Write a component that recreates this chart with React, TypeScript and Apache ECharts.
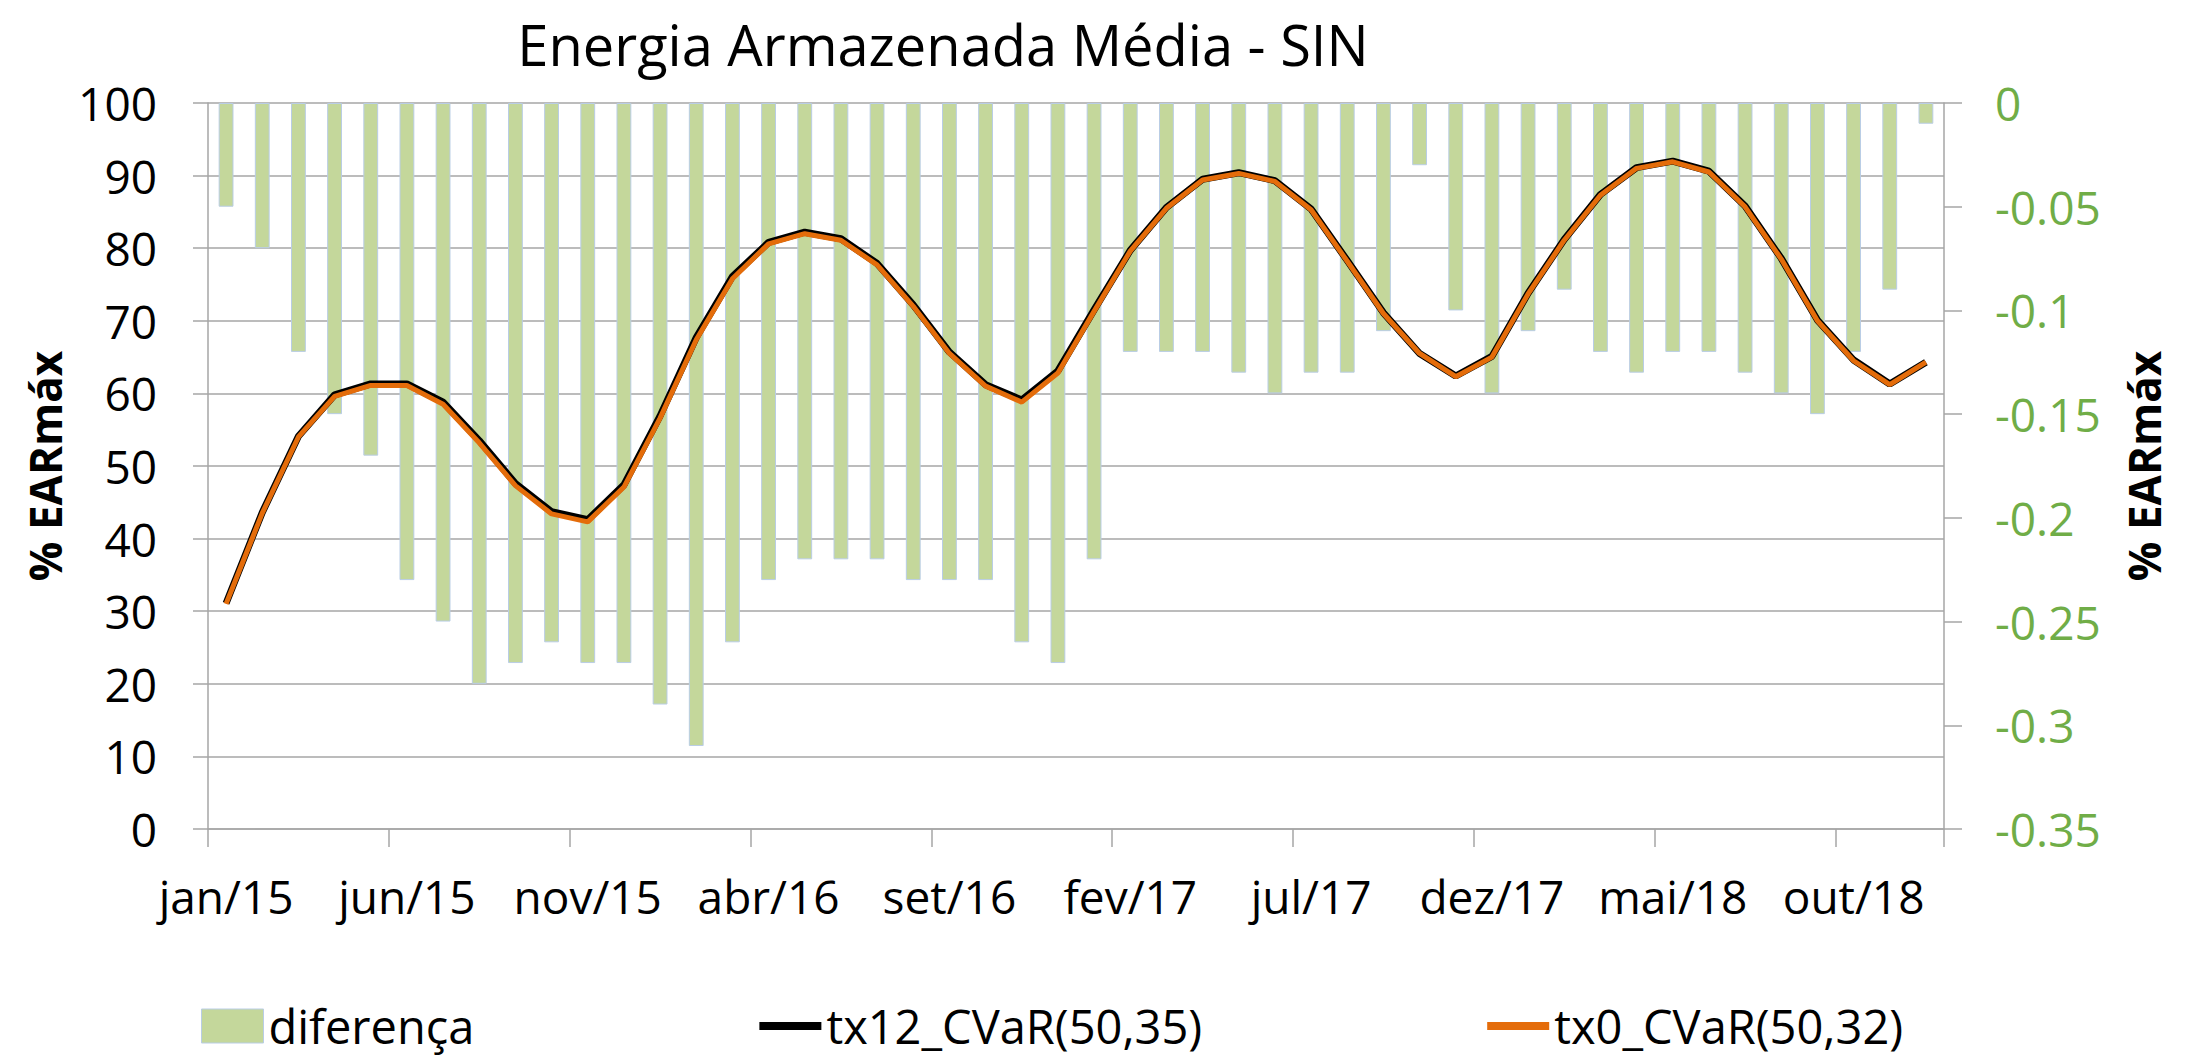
import React, { useEffect, useRef } from "react";
import * as echarts from "echarts";

const months = [
  "jan/15", "fev/15", "mar/15", "abr/15", "mai/15", "jun/15", "jul/15", "ago/15", "set/15", "out/15", "nov/15", "dez/15",
  "jan/16", "fev/16", "mar/16", "abr/16", "mai/16", "jun/16", "jul/16", "ago/16", "set/16", "out/16", "nov/16", "dez/16",
  "jan/17", "fev/17", "mar/17", "abr/17", "mai/17", "jun/17", "jul/17", "ago/17", "set/17", "out/17", "nov/17", "dez/17",
  "jan/18", "fev/18", "mar/18", "abr/18", "mai/18", "jun/18", "jul/18", "ago/18", "set/18", "out/18", "nov/18", "dez/18",
];

const diferenca = [
  -0.05, -0.07, -0.12, -0.15, -0.17, -0.23, -0.25, -0.28, -0.27, -0.26, -0.27, -0.27,
  -0.29, -0.31, -0.26, -0.23, -0.22, -0.22, -0.22, -0.23, -0.23, -0.23, -0.26, -0.27,
  -0.22, -0.12, -0.12, -0.12, -0.13, -0.14, -0.13, -0.13, -0.11, -0.03, -0.10, -0.14,
  -0.11, -0.09, -0.12, -0.13, -0.12, -0.12, -0.13, -0.14, -0.15, -0.12, -0.09, -0.01,
];

const tx12 = [
  31.1, 43.6, 54.1, 59.8, 61.3, 61.3, 58.8, 53.5, 47.6, 43.7, 42.6, 47.4,
  56.9, 67.7, 76.1, 80.8, 82.2, 81.3, 77.9, 72.2, 65.7, 61.2, 59.1, 63.1,
  71.5, 79.7, 85.6, 89.5, 90.4, 89.3, 85.4, 78.3, 71.1, 65.5, 62.4, 65.1,
  73.8, 81.2, 87.4, 91.1, 92.0, 90.6, 85.8, 78.6, 70.1, 64.6, 61.3, 64.3,
];

const tx0 = [
  31.0, 43.5, 54.0, 59.6, 61.1, 61.1, 58.5, 53.2, 47.3, 43.4, 42.3, 47.1,
  56.6, 67.4, 75.8, 80.6, 82.0, 81.1, 77.7, 72.0, 65.5, 61.0, 58.8, 62.8,
  71.3, 79.6, 85.5, 89.4, 90.3, 89.2, 85.3, 78.2, 71.0, 65.5, 62.3, 65.0,
  73.7, 81.1, 87.3, 91.0, 91.9, 90.5, 85.7, 78.5, 70.0, 64.5, 61.2, 64.3,
];

const FONT = "Open Sans";
const GRID_COLOR = "#a6a6a6";
const GREEN_TEXT = "#70ad47";
// legend line icon: a thick horizontal stroke inside a 62x34 box
const LINE_ICON =
  "path://M0,0L0.01,0L0.01,0.01Z M0,13L62,13L62,21L0,21Z M62,34L61.99,34L61.99,33.99Z";

export default function App() {
  const ref = useRef<HTMLDivElement>(null);

  useEffect(() => {
    if (!ref.current) return;
    const chart = echarts.init(ref.current, null, { renderer: "svg" });
    chart.setOption({
      animation: false,
      backgroundColor: "#ffffff",
      textStyle: { fontFamily: FONT },
      title: {
        text: "Energia Armazenada Média - SIN",
        left: 938,
        top: 4,
        textAlign: "center",
        textStyle: { fontFamily: FONT, fontSize: 56, fontWeight: "normal", color: "#000", lineHeight: 70 },
      },
      grid: { left: 208, right: 245, top: 103, bottom: 230, containLabel: false },
      legend: {
        left: 196,
        top: 997,
        itemGap: 285,
        itemWidth: 62,
        itemHeight: 34,
        textStyle: { fontFamily: FONT, fontSize: 47, color: "#000", lineHeight: 48 },
        data: [
          { name: "diferença", icon: "rect", itemStyle: { color: "#c4d79b", borderColor: "#b9cde5", borderWidth: 1 } },
          { name: "tx12_CVaR(50,35)", icon: LINE_ICON, itemStyle: { color: "#000", borderWidth: 0 } },
          { name: "tx0_CVaR(50,32)", icon: LINE_ICON, itemStyle: { color: "#e46c0a", borderWidth: 0 } },
        ],
      },
      xAxis: {
        type: "category",
        data: months,
        boundaryGap: true,
        axisLine: { show: true, lineStyle: { color: GRID_COLOR, width: 1.5 } },
        axisTick: { show: true, interval: 4, length: 18, alignWithLabel: false, lineStyle: { color: GRID_COLOR, width: 1.5 } },
        axisLabel: { interval: 4, margin: 44, fontFamily: FONT, fontSize: 46, color: "#000" },
        splitLine: { show: false },
      },
      yAxis: [
        {
          type: "value",
          min: 0,
          max: 100,
          interval: 10,
          position: "left",
          name: "% EARmáx",
          nameLocation: "middle",
          nameGap: 122,
          nameRotate: 90,
          nameTextStyle: { fontFamily: FONT, fontSize: 44, fontWeight: "bold", color: "#000" },
          axisLine: { show: true, lineStyle: { color: GRID_COLOR, width: 1.5 } },
          axisTick: { show: true, length: 15, lineStyle: { color: GRID_COLOR, width: 1.5 } },
          axisLabel: { margin: 51, fontFamily: FONT, fontSize: 46, color: "#000" },
          splitLine: { show: true, lineStyle: { color: GRID_COLOR, width: 1.5 } },
        },
        {
          type: "value",
          min: -0.35,
          max: 0,
          interval: 0.05,
          position: "right",
          name: "% EARmáx",
          nameLocation: "middle",
          nameGap: 178,
          nameRotate: 90,
          nameTextStyle: { fontFamily: FONT, fontSize: 44, fontWeight: "bold", color: "#000" },
          axisLine: { show: true, lineStyle: { color: GRID_COLOR, width: 1.5 } },
          axisTick: { show: true, length: 18, lineStyle: { color: GRID_COLOR, width: 1.5 } },
          axisLabel: { margin: 51, fontFamily: FONT, fontSize: 46, color: GREEN_TEXT },
          splitLine: { show: false },
        },
      ],
      series: [
        {
          name: "diferença",
          type: "bar",
          yAxisIndex: 1,
          data: diferenca,
          barWidth: "41%",
          itemStyle: { color: "#c4d79b", borderColor: "#b9cde5", borderWidth: 1 },
          z: 1,
        },
        {
          name: "tx12_CVaR(50,35)",
          type: "line",
          yAxisIndex: 0,
          data: tx12,
          symbol: "none",
          lineStyle: { color: "#000", width: 7 },
          itemStyle: { color: "#000" },
          z: 3,
        },
        {
          name: "tx0_CVaR(50,32)",
          type: "line",
          yAxisIndex: 0,
          data: tx0,
          symbol: "none",
          lineStyle: { color: "#e46c0a", width: 5 },
          itemStyle: { color: "#e46c0a" },
          z: 4,
        },
      ],
    });
    return () => chart.dispose();
  }, []);

  return (
    <div
      ref={ref}
      style={{ position: "fixed", left: 0, top: 0, width: 2189, height: 1059, background: "#fff" }}
    />
  );
}
